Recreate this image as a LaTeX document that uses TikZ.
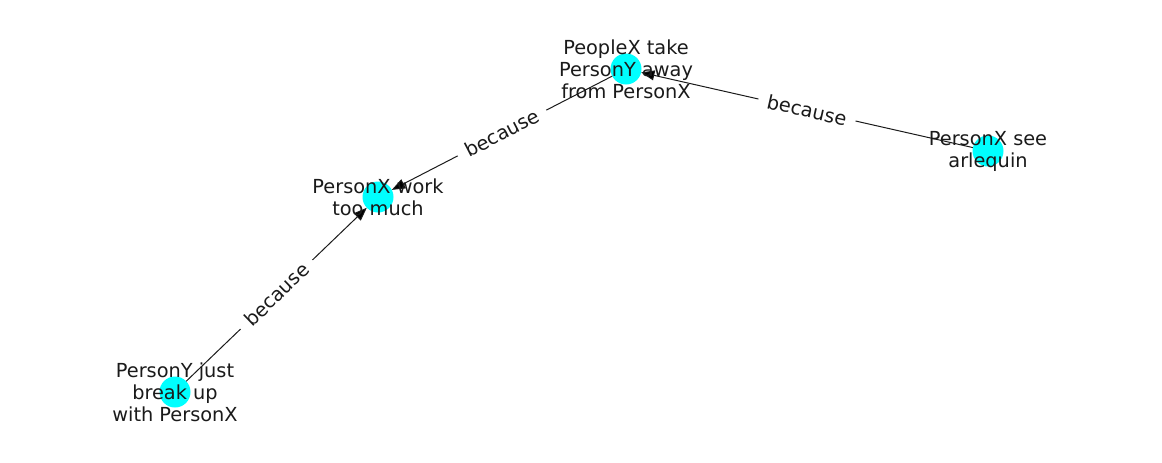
\documentclass[tikz,border=0pt]{standalone}
\usepackage{fontspec}
\setmainfont{DejaVu Sans}
\usepackage{xcolor}
\usetikzlibrary{arrows.meta}
\definecolor{nodecyan}{RGB}{0,255,255}
\definecolor{inkgray}{RGB}{26,26,26}

\begin{document}
\begin{tikzpicture}[x=0.75pt, y=-0.75pt,
    vertex/.style={circle, fill=nodecyan, minimum size=23.25pt, inner sep=0pt, outer sep=0pt},
    txt/.style={align=center, inner sep=0pt, text=inkgray, font=\fontsize{14.5pt}{16.5pt}\selectfont},
    because/.style={sloped, fill=white, inner xsep=7pt, inner ysep=3pt, text=inkgray, font=\fontsize{14.5pt}{16.5pt}\selectfont},
    link/.style={draw=inkgray, line width=0.75pt, -{Triangle[length=10pt, width=7.5pt]}}]
            \useasboundingbox (0, 0) rectangle (1162, 462);
            \node (take) at (626, 69) [vertex] {};
            \node (work) at (378, 197) [vertex] {};
            \node (see) at (988, 151) [vertex] {};
            \node (break) at (175, 392) [vertex] {};
            \draw [link] (see) edge node [because] {because} (take);
            \draw [link] (take) edge node [because] {because} (work);
            \draw [link] (break) edge node [because] {because} (work);
            \node at (take) [txt] {PeopleX take\\PersonY away\\from PersonX};
            \node at (work) [txt] {PersonX work\\too much};
            \node at (see) [txt] {PersonX see\\arlequin};
            \node at (break) [txt] {PersonY just\\break up\\with PersonX};
        \end{tikzpicture}
\end{document}
